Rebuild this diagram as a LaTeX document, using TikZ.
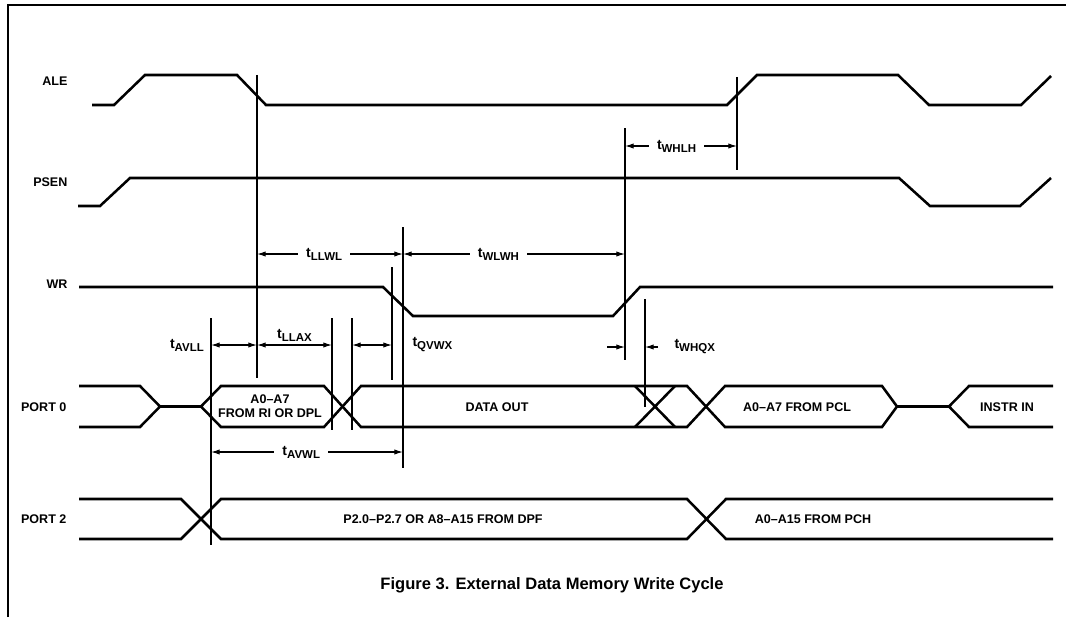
\documentclass[tikz,border=0pt]{standalone}
\usepackage{fontspec}
\setmainfont{Liberation Sans}
\usetikzlibrary{arrows.meta}
\newcommand{\tname}[1]{{\fontsize{10.5}{11}\selectfont t}\raisebox{-0.45ex}{\fontsize{8.6}{9}\selectfont #1}}
\tikzset{
  every node/.style={
    font=\bfseries\fontsize{9.4}{10.2}\selectfont,
    inner sep=1pt
  },
  frame/.style={line width=1.5pt},
  signal/.style={line width=1.9pt},
  guide/.style={line width=0.85pt},
  dim/.style={line width=0.85pt,
    {Latex[length=6.5pt,width=4pt]}-{Latex[length=6.5pt,width=4pt]}},
  oneway/.style={line width=0.85pt, -{Latex[length=6.5pt,width=4pt]}},
  tlabel/.style={fill=white, inner xsep=6pt}
}

\begin{document}
\begin{tikzpicture}[x=0.75pt,y=-0.75pt]
    \useasboundingbox (0,0) rectangle (1066,617);
    \draw[frame] (8,617) -- (8,5) -- (1066,5);
    % signal names
    \node[anchor=east] (ale) at (69,81) {ALE};
    \node[anchor=east] (psen) at (69,182) {PSEN};
    \node[anchor=east] (wr) at (69,284) {WR};
    \node[anchor=east] (port0) at (68,407) {PORT 0};
    \node[anchor=east] (port2) at (68,519) {PORT 2};
    % control lines
    \draw[signal] (92,105) -- (114,105) -- (145,75) -- (237,75) -- (266,105) -- (727,105)
      -- (757,75) -- (898,75) -- (929,105) -- (1021,105) -- (1051,76);
    \draw[signal] (78,206) -- (100,206) -- (130,178) -- (899,178) -- (930,206) -- (1020,206)
      -- (1051,178);
    \draw[signal] (79,287) -- (383,287) -- (413,316) -- (613,316) -- (640,287) -- (1053,287);
    % port 0
    \draw[signal] (79,386) -- (140,386) -- (160,406.5) -- (140,427) -- (79,427);
    \draw[signal] (160,406.5) -- (201,406.5);
    \draw[signal] (201,406.5) -- (221,386) -- (324,386) -- (361,427) -- (687,427) -- (725,386)
      -- (882,386) -- (897,406.5);
    \draw[signal] (201,406.5) -- (221,427) -- (324,427) -- (361,386) -- (687,386) -- (725,427)
      -- (882,427) -- (897,406.5);
    \draw[signal] (635,386) -- (675,427) (635,427) -- (675,386);
    \draw[signal] (897,406.5) -- (949,406.5);
    \draw[signal] (1053,386) -- (969,386) -- (949,406.5) -- (969,427) -- (1053,427);
    \node[align=center] (lowaddr) at (270,406) {A0--A7\\FROM RI OR DPL};
    \node (dataout) at (497,407) {DATA OUT};
    \node (pcl) at (797,407) {A0--A7 FROM PCL};
    \node (instr) at (1007,407) {INSTR IN};
    % port 2
    \draw[signal] (79,499) -- (181,499) -- (221,539) -- (687,539) -- (726,499) -- (1053,499);
    \draw[signal] (79,539) -- (181,539) -- (221,499) -- (687,499) -- (726,539) -- (1053,539);
    \node (dpf) at (443,519) {P2.0--P2.7 OR A8--A15 FROM DPF};
    \node (pch) at (813,519) {A0--A15 FROM PCH};
    % reference lines
    \foreach \nm/\xx/\ya/\yb in {avll/211/318/545, ll/257/75/378, llax/332/318/430,
        dv/352/318/430, qv/392/267/380, wl/403/227/468, wh/625/128/360,
        qx/645/299/407, lh/737/77/170} {
      \coordinate (\nm-top) at (\xx,\ya);
      \coordinate (\nm-bot) at (\xx,\yb);
      \draw[guide] (\nm-top) -- (\nm-bot);
    }
    % timings
    \draw[dim] (wh-top |- 0,146) -- node[tlabel, pos=0.46] (twhlh) {\tname{WHLH}} (lh-top |- 0,146);
    \draw[dim] (ll-top |- 0,254) -- node[tlabel, pos=0.46] (tllwl) {\tname{LLWL}} (wl-top |- 0,254);
    \draw[dim] (wl-top |- 0,254) -- node[tlabel, pos=0.43] (twlwh) {\tname{WLWH}} (wh-top |- 0,254);
    \draw[dim] (avll-top |- 0,345) node[left=4pt] (tavll) {\tname{AVLL}} -- (ll-top |- 0,345);
    \draw[dim] (ll-top |- 0,345) -- node[above=1pt] (tllax) {\tname{LLAX}} (llax-top |- 0,345);
    \draw[dim] (dv-top |- 0,345) -- (qv-top |- 0,345) node[right=14pt] (tqvwx) {\tname{QVWX}};
    \draw[dim] (avll-top |- 0,452) -- node[tlabel, pos=0.47] (tavwl) {\tname{AVWL}} (wl-top |- 0,452);
    \coordinate (qx-left) at (607,347);
    \coordinate (qx-right) at (658,347);
    \draw[oneway] (qx-left) -- (wh-top |- 0,347);
    \draw[oneway] (qx-right) node[right=11pt] (twhqx) {\tname{WHQX}} -- (qx-top |- 0,347);
    % caption
    \node (caption) at (552,585) {\fontsize{12.4}{14}\selectfont Figure 3. External Data Memory Write Cycle};
\end{tikzpicture}
\end{document}
